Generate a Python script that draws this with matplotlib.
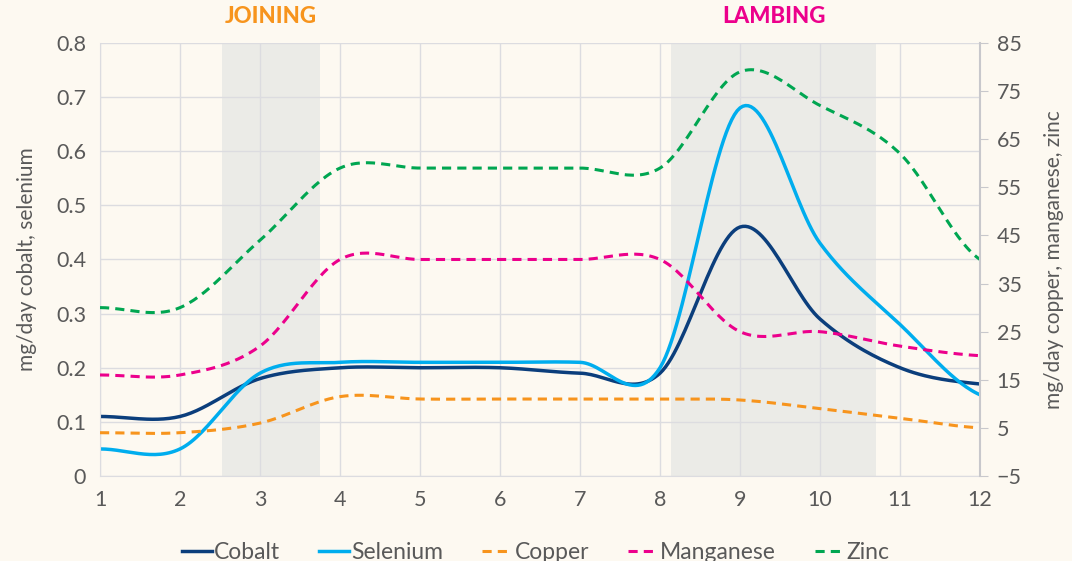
import numpy as np
import matplotlib
matplotlib.use("Agg")
import matplotlib.pyplot as plt

plt.rcParams['font.family'] = ['Lato', 'DejaVu Sans']

months = [1, 2, 3, 4, 5, 6, 7, 8, 9, 10, 11, 12]
cobalt = [0.11, 0.11, 0.18, 0.20, 0.20, 0.20, 0.19, 0.19, 0.46, 0.29, 0.20, 0.17]
selenium = [0.05, 0.05, 0.19, 0.21, 0.21, 0.21, 0.21, 0.20, 0.68, 0.43, 0.28, 0.15]
copper = [4, 4, 6, 11.5, 11, 11, 11, 11, 10.8, 9, 7, 5]
manganese = [16, 16, 22, 40, 40, 40, 40, 40, 25, 25, 22, 20]
zinc = [30, 30, 44, 59, 59, 59, 59, 59, 79, 72, 62, 40]

joining = (2.53, 3.75)
lambing = (8.14, 10.7)

bg = '#fdf9f1'
grid_c = '#dcdce0'
txt_c = '#595959'


def smooth(x, y, n=30):
    # Catmull-Rom style curve through the points (like Excel's smoothed line)
    x = np.asarray(x, float)
    y = np.asarray(y, float)
    px = np.concatenate([[2 * x[0] - x[1]], x, [2 * x[-1] - x[-2]]])
    py = np.concatenate([[y[0]], y, [y[-1]]])
    xs, ys = [], []
    t = np.linspace(0, 1, n)
    for i in range(1, len(px) - 2):
        p0, p1, p2, p3 = py[i - 1], py[i], py[i + 1], py[i + 2]
        q0, q1, q2, q3 = px[i - 1], px[i], px[i + 1], px[i + 2]
        c1y = p1 + (p2 - p0) / 6
        c2y = p2 - (p3 - p1) / 6
        c1x = q1 + (q2 - q0) / 6
        c2x = q2 - (q3 - q1) / 6
        bx = (1 - t) ** 3 * q1 + 3 * (1 - t) ** 2 * t * c1x + 3 * (1 - t) * t ** 2 * c2x + t ** 3 * q2
        by = (1 - t) ** 3 * p1 + 3 * (1 - t) ** 2 * t * c1y + 3 * (1 - t) * t ** 2 * c2y + t ** 3 * p2
        xs.extend(bx)
        ys.extend(by)
    return xs, ys


fig = plt.figure(figsize=(10.72, 5.61), dpi=100, facecolor=bg)
ax = fig.add_axes([0.0933, 0.1515, 0.8209, 0.7719])
ax.set_facecolor(bg)
ax2 = ax.twinx()

ax.axvspan(*joining, color='#ebebe7', zorder=0, lw=0)
ax.axvspan(*lambing, color='#ebebe7', zorder=0, lw=0)

ax.set_xlim(1, 12)
ax.set_ylim(0, 0.8)
ax2.set_ylim(-5, 85)
ax.set_xticks(months)
ax.set_yticks(np.arange(0, 0.81, 0.1))
ax.set_yticklabels(['0'] + ['%.1f' % v for v in np.arange(0.1, 0.81, 0.1)])
ax2.set_yticks(np.arange(-5, 86, 10))
ax.grid(True, color=grid_c, lw=1)
ax.set_axisbelow(True)

for a in (ax, ax2):
    for s in a.spines.values():
        s.set_visible(False)
ax2.spines['right'].set_visible(True)
ax2.spines['right'].set_color('#c8c8cc')
ax2.spines['right'].set_linewidth(1.5)
ax.spines['left'].set_visible(True)
ax.spines['left'].set_color(grid_c)
ax.spines['bottom'].set_visible(True)
ax.spines['bottom'].set_color(grid_c)

ax.tick_params(axis='both', length=0, labelsize=15.5, labelcolor=txt_c, pad=10)
ax.tick_params(axis='x', pad=10)
ax2.tick_params(axis='y', length=6, color='#c8c8cc', labelsize=15.5, labelcolor=txt_c, pad=6)

ax.set_ylabel('mg/day cobalt, selenium', fontsize=15, color=txt_c, labelpad=14)
ax2.set_ylabel('mg/day copper, manganese, zinc', fontsize=15, color=txt_c, labelpad=16)

ax.plot(*smooth(months, cobalt), color='#0b3e7c', lw=2.5, label='Cobalt')
ax.plot(*smooth(months, selenium), color='#00adee', lw=2.5, label='Selenium')
ax2.plot(*smooth(months, copper), color='#f7941d', lw=2.2, ls=(0, (3, 2)), label='Copper')
ax2.plot(*smooth(months, manganese), color='#ec008c', lw=2.2, ls=(0, (3, 2)), label='Manganese')
ax2.plot(*smooth(months, zinc), color='#00a651', lw=2.2, ls=(0, (3, 2)), label='Zinc')

ax.text(sum(joining) / 2, 0.83, 'JOINING', color='#f7941d', fontsize=16, fontweight='black',
        ha='center', va='bottom')
ax.text(sum(lambing) / 2, 0.83, 'LAMBING', color='#ec008c', fontsize=16, fontweight='black',
        ha='center', va='bottom')

h1, l1 = ax.get_legend_handles_labels()
h2, l2 = ax2.get_legend_handles_labels()
fig.legend(h1 + h2, l1 + l2, loc='center', bbox_to_anchor=(0.5, 0.015), ncol=5, frameon=False,
           fontsize=16.5, labelcolor=txt_c, handlelength=1.3, handletextpad=0.1, columnspacing=1.7)

fig.savefig('out.png', dpi=100, facecolor=bg)
